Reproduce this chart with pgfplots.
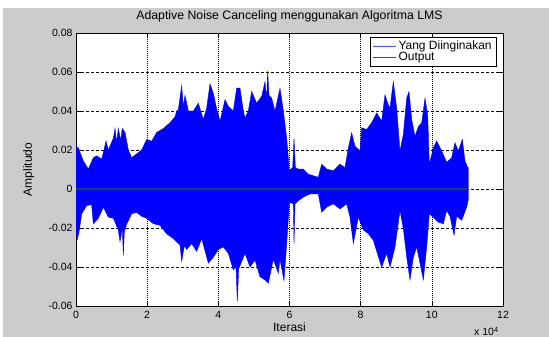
\documentclass[border=0pt]{standalone}
\usepackage{fontspec}
\setmainfont{Liberation Sans}
\usepackage{pgfplots}
\pgfplotsset{compat=1.18}
\definecolor{bgray}{RGB}{204,204,204}
\definecolor{outgreen}{RGB}{0,128,0}
\definecolor{outline}{RGB}{10,70,105}
\definecolor{sigblue}{RGB}{0,0,255}
\begin{document}
\begin{tikzpicture}
\useasboundingbox (0,0) rectangle (549pt,337pt);
\fill[bgray] (3pt,0) rectangle (549pt,328.5pt);
\begin{axis}[
  at={(76pt,31pt)}, anchor=south west,
  width=427pt, height=273pt, scale only axis,
  xmin=0, xmax=12, ymin=-0.06, ymax=0.08,
  axis background/.style={fill=white},
  xtick={0,2,4,6,8,10,12}, xticklabels={0,2,4,6,8,10,12},
  ytick={-0.06,-0.04,-0.02,0,0.02,0.04,0.06,0.08},
  yticklabels={-0.06,-0.04,-0.02,0,0.02,0.04,0.06,0.08},
  scaled ticks=false,
  tick align=inside, xtick pos=both, ytick pos=both,
  major tick length=5pt,
  grid=major,
  major x grid style={black, line width=0.5pt, dash pattern=on 1pt off 1pt},
  major y grid style={black, line width=0.5pt, dash pattern=on 3pt off 2pt},
  axis line style={black, line width=0.8pt},
  tick style={black, line width=0.6pt},
  ticklabel style={font=\fontsize{10.5}{12}\selectfont},
  xticklabel style={yshift=-2pt},
  title={Adaptive Noise Canceling menggunakan Algoritma LMS},
  title style={font=\fontsize{12.3}{14}\selectfont, at={(0.5,1)}, anchor=base, yshift=7pt},
  xlabel={Iterasi},
  xlabel style={font=\fontsize{12}{14}\selectfont, at={(axis description cs:0.5,0)}, anchor=base, yshift=-25.5pt},
  ylabel={Amplitudo},
  ylabel style={font=\fontsize{12}{14}\selectfont, at={(axis description cs:-0.1035,0.5)}, anchor=base},
  legend style={at={(1,1)}, anchor=north east, xshift=-6pt, yshift=-4pt,
    draw=black, line width=0.6pt, fill=white,
    font=\fontsize{12}{13}\selectfont, cells={anchor=west},
    inner xsep=3pt, inner ysep=1.5pt, row sep=-2.5pt},
]
\addplot[draw=sigblue, fill=sigblue, line width=0.4pt,
  legend image code/.code={\draw[blue!65, line width=0.7pt] (0pt,0pt) -- (23pt,0pt);}]
  coordinates {
(0,0.022) (0.066,0.021) (0.206,0.0144) (0.347,0.0102) (0.487,0.016) (0.581,0.017) (0.721,0.0153) (0.768,0.0186) (0.843,0.0246) (0.909,0.020) (0.955,0.022) (1.049,0.026) (1.096,0.031) (1.143,0.024) (1.190,0.031) (1.255,0.025) (1.302,0.031) (1.377,0.029) (1.471,0.020) (1.564,0.016) (1.705,0.018) (1.845,0.020) (1.986,0.0254) (2.126,0.0245) (2.267,0.029) (2.454,0.031) (2.642,0.034) (2.782,0.037) (2.829,0.040) (2.876,0.0407) (2.970,0.053) (3.016,0.042) (3.063,0.048) (3.157,0.040) (3.298,0.040) (3.438,0.044) (3.579,0.0356) (3.672,0.0415) (3.766,0.054) (3.860,0.049) (3.954,0.041) (4.047,0.0347) (4.188,0.0458) (4.281,0.0424) (4.422,0.040) (4.515,0.0517) (4.609,0.0517) (4.703,0.040) (4.750,0.0364) (4.843,0.040) (4.937,0.050) (5.077,0.044) (5.218,0.0475) (5.311,0.055) (5.358,0.046) (5.386,0.0605) (5.424,0.048) (5.499,0.0466) (5.592,0.040) (5.733,0.0517) (5.827,0.040) (5.921,0.026) (5.996,0.0093) (6.090,0.011) (6.127,0.026) (6.165,0.011) (6.248,0.0102) (6.389,0.0102) (6.529,0.0076) (6.670,0.0068) (6.810,0.006) (6.904,0.0127) (7.044,0.0102) (7.232,0.0093) (7.419,0.0127) (7.560,0.011) (7.653,0.021) (7.747,0.0288) (7.841,0.022) (7.981,0.0195) (8.028,0.0314) (8.169,0.0305) (8.309,0.034) (8.450,0.039) (8.590,0.0348) (8.684,0.0483) (8.778,0.043) (8.824,0.0415) (8.918,0.055) (9.012,0.0415) (9.105,0.0195) (9.199,0.028) (9.293,0.0466) (9.358,0.050) (9.434,0.0356) (9.527,0.027) (9.621,0.032) (9.715,0.034) (9.808,0.0466) (9.883,0.038) (9.930,0.0127) (10.042,0.021) (10.136,0.0246) (10.276,0.0195) (10.417,0.0136) (10.557,0.016) (10.651,0.0237) (10.745,0.0195) (10.857,0.0254) (10.932,0.0144) (11.007,0.011) (11.03,0.011)
(11.03,-0.005) (10.979,-0.0093) (10.839,-0.016) (10.698,-0.014) (10.623,-0.0237) (10.511,-0.014) (10.417,-0.011) (10.323,-0.0178) (10.183,-0.017) (10.042,-0.0144) (9.930,-0.0127) (9.855,-0.0297) (9.761,-0.0466) (9.668,-0.038) (9.574,-0.0297) (9.480,-0.035) (9.386,-0.0466) (9.293,-0.0347) (9.199,-0.0203) (9.105,-0.011) (8.965,-0.0297) (8.825,-0.040) (8.731,-0.033) (8.590,-0.040) (8.497,-0.0347) (8.356,-0.0263) (8.216,-0.0229) (8.075,-0.021) (7.934,-0.0144) (7.794,-0.028) (7.700,-0.0144) (7.607,-0.0076) (7.419,-0.0102) (7.232,-0.0076) (7.044,-0.0093) (6.904,-0.0119) (6.810,-0.0025) (6.577,-0.0025) (6.389,-0.0042) (6.248,-0.006) (6.156,-0.0076) (6.127,-0.028) (6.109,-0.0076) (5.996,-0.0068) (5.921,-0.028) (5.845,-0.047) (5.733,-0.036) (5.686,-0.0432) (5.546,-0.036) (5.405,-0.0483) (5.311,-0.0466) (5.171,-0.045) (5.031,-0.0364) (4.890,-0.040) (4.750,-0.033) (4.571,-0.041) (4.534,-0.0576) (4.497,-0.040) (4.422,-0.0415) (4.281,-0.033) (4.141,-0.0297) (4.000,-0.031) (3.860,-0.035) (3.719,-0.038) (3.532,-0.0254) (3.391,-0.032) (3.251,-0.028) (3.110,-0.031) (3.045,-0.029) (2.970,-0.037) (2.923,-0.0288) (2.782,-0.0263) (2.735,-0.0254) (2.548,-0.023) (2.361,-0.0186) (2.173,-0.0178) (1.986,-0.015) (1.845,-0.014) (1.705,-0.012) (1.564,-0.0127) (1.424,-0.018) (1.358,-0.022) (1.330,-0.034) (1.302,-0.020) (1.237,-0.027) (1.190,-0.021) (1.049,-0.015) (0.909,-0.0144) (0.768,-0.0093) (0.628,-0.015) (0.487,-0.0178) (0.440,-0.008) (0.300,-0.0085) (0.159,-0.0127) (0.094,-0.021) (0.037,-0.026) (0,-0.0229)
  } -- cycle;
\addlegendentry{Yang Diinginakan}
\addplot[draw=outline, line width=1.3pt,
  legend image code/.code={\draw[outgreen, line width=0.7pt] (0pt,0pt) -- (23pt,0pt);}]
  coordinates {(0,0) (11.0,0)};
\addlegendentry{Output}
\end{axis}
\node[anchor=base west, inner sep=0pt, font=\fontsize{10.5}{12}\selectfont] at (474pt,1pt) {x 10\textsuperscript{4}};
\end{tikzpicture}
\end{document}
